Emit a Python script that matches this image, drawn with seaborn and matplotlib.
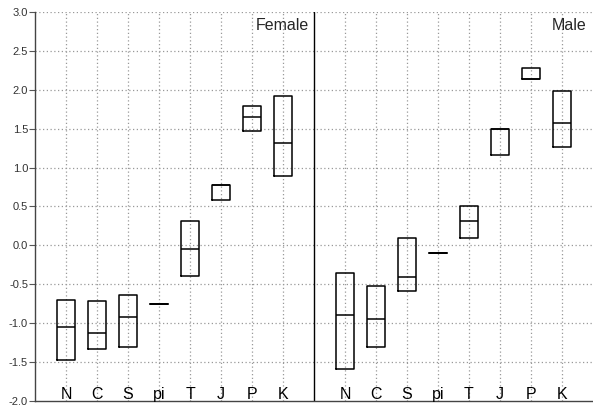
import numpy as np
import pandas as pd
import matplotlib
matplotlib.use("Agg")
import matplotlib.pyplot as plt
import seaborn as sns

# categories per panel
cats = ["N", "C", "S", "pi", "T", "J", "P", "K"]
groups = ["Female", "Male"]

# box bottom / median / top
female_lo = [-1.47, -1.33, -1.31, -0.75, -0.39, 0.58, 1.47, 0.89]
female_med = [-1.05, -1.12, -0.92, -0.75, -0.04, 0.78, 1.65, 1.31]
female_hi = [-0.70, -0.72, -0.64, -0.75, 0.31, 0.78, 1.79, 1.92]

male_lo = [-1.59, -1.31, -0.58, -0.10, 0.09, 1.16, 2.14, 1.26]
male_med = [-0.89, -0.94, -0.40, -0.10, 0.31, 1.49, 2.14, 1.57]
male_hi = [-0.35, -0.52, 0.09, -0.10, 0.50, 1.49, 2.28, 1.99]

yticks = [3.0, 2.5, 2.0, 1.5, 1.0, 0.5, 0.0, -0.5, -1.0, -1.5, -2.0]

sns.set_style("white")
plt.rcParams['font.family'] = ['Liberation Sans', 'DejaVu Sans']

# build a long table; 5 points per box so that q1/median/q3 land on lo/med/hi
rows = []
stats = [(female_lo, female_med, female_hi), (male_lo, male_med, male_hi)]
for g, (lo, med, hi) in enumerate(stats):
    for i, c in enumerate(cats):
        pos = i + g * (len(cats) + 1)
        for v in [lo[i], lo[i], med[i], hi[i], hi[i]]:
            rows.append({"pos": pos, "value": v, "group": groups[g], "cat": c})
df = pd.DataFrame(rows)

fig = plt.figure(figsize=(5.93, 4.09), dpi=100)
ax = fig.add_axes([35 / 593, 8 / 409, 558 / 593, 389 / 409])

positions = sorted(df["pos"].unique())
grid_kw = dict(color="#999999", lw=0.9, ls=(0, (1, 2)), zorder=0)
for p in positions:
    ax.axvline(p, **grid_kw)
for y in yticks[:-1]:
    ax.axhline(y, **grid_kw)

sns.boxplot(data=df, x="pos", y="value", native_scale=True, width=0.55,
            whis=0, showcaps=False, showfliers=False, fill=False,
            color="black", linewidth=1.1, ax=ax,
            medianprops=dict(color="black", lw=1.1))

ax.axvline(len(cats), color="black", lw=1.0)

ax.set_xlim(-1, 2 * len(cats) + 1)
ax.set_ylim(-2.0, 3.0)
ax.set_yticks(yticks)
ax.set_yticklabels([f"{t:.1f}" for t in yticks], fontsize=8, color="#333333")
ax.tick_params(axis="y", left=True, length=4, width=0.8, color="#555555", pad=1)
ax.set_xticks([])
ax.set_xlabel("")
ax.set_ylabel("")

for s in ["top", "right"]:
    ax.spines[s].set_visible(False)
for s in ["left", "bottom"]:
    ax.spines[s].set_color("#444444")
    ax.spines[s].set_linewidth(1.0)

# category labels sit inside the axes along the bottom
for g in range(2):
    for i, c in enumerate(cats):
        pos = i + g * (len(cats) + 1)
        ax.text(pos, -1.975, c, ha="center", va="baseline", fontsize=11.5, color="black")

ax.text(len(cats) - 0.15, 2.77, groups[0], ha="right", va="baseline", fontsize=11.5)
ax.text(2 * len(cats) + 0.8, 2.77, groups[1], ha="right", va="baseline", fontsize=11.5)

fig.savefig("out.png", dpi=100)
